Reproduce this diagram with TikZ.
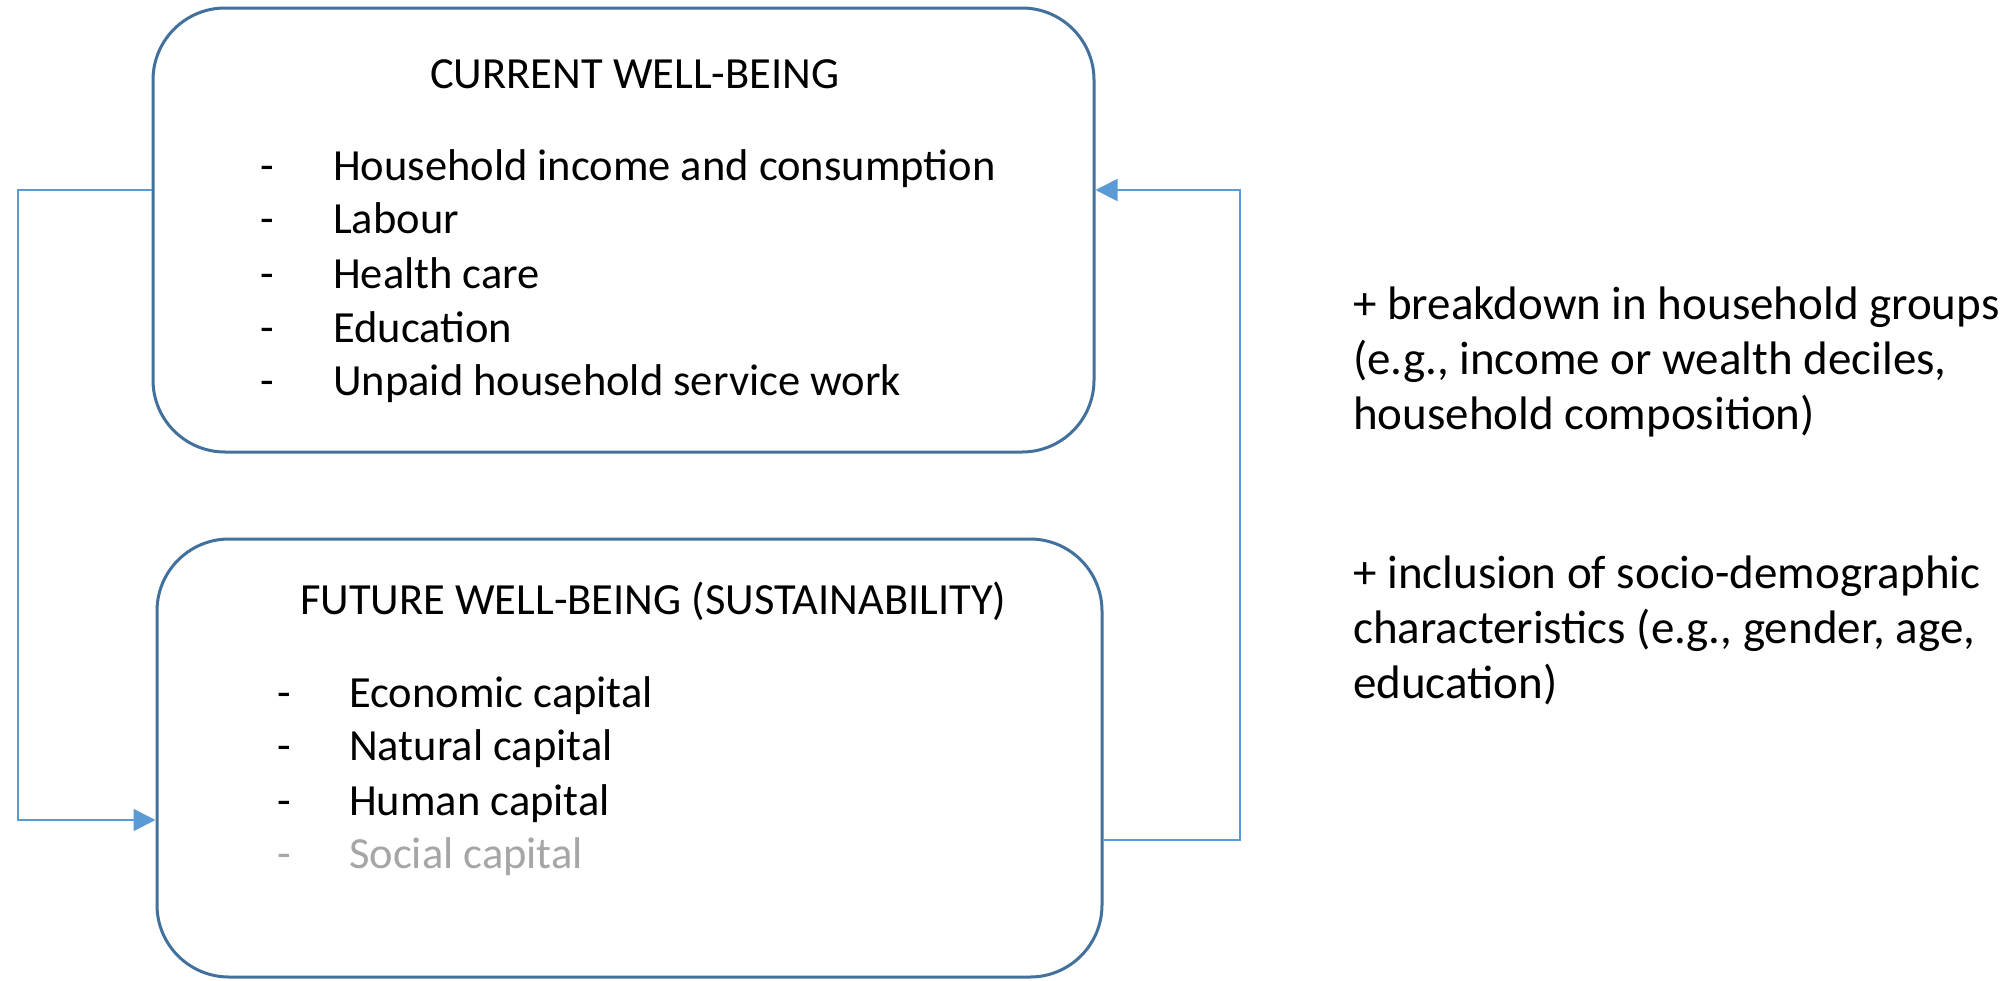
\documentclass[tikz,border=0pt]{standalone}
\usepackage{fontspec}
\setmainfont{Carlito}
\usetikzlibrary{arrows.meta}
\definecolor{boxblue}{HTML}{41719C}
\definecolor{linkblue}{HTML}{5B9BD5}
\definecolor{softgray}{HTML}{A6A6A6}
\begin{document}
\begin{tikzpicture}[x=1pt,y=-1pt,
  wbox/.style={draw=boxblue, line width=3pt, rounded corners=72pt, inner sep=0pt},
  link/.style={draw=linkblue, line width=1.8pt},
  arr/.style={-{Triangle[length=22pt,width=22pt]}},
  titletxt/.style={anchor=base west, inner sep=0pt, font=\fontsize{44.5}{53}\selectfont},
  itemtxt/.style={anchor=base west, inner sep=0pt, font=\fontsize{44.5}{53}\selectfont},
  sidetxt/.style={anchor=base west, inner sep=0pt, align=left, font=\fontsize{47}{55}\selectfont}]
\useasboundingbox (0,0) rectangle (2013,980);
\fill[white] (0,0) rectangle (2013,980);
% boxes
\node[wbox, minimum width=941pt, minimum height=444pt] (cur) at (623.5,230) {};
\node[wbox, minimum width=945pt, minimum height=438pt] (fut) at (629.5,758) {};
% top box text
\node[titletxt] (t1) at (430,88) {CURRENT WELL-BEING};
\node[itemtxt] (d1) at (260,180) {-};
\node[itemtxt] (i1) at (333,180) {Household income and consumption};
\node[itemtxt] (d2) at (260,233) {-};
\node[itemtxt] (i2) at (333,233) {Labour};
\node[itemtxt] (d3) at (260,288) {-};
\node[itemtxt] (i3) at (333,288) {Health care};
\node[itemtxt] (d4) at (260,342) {-};
\node[itemtxt] (i4) at (333,342) {Education};
\node[itemtxt] (d5) at (260,395) {-};
\node[itemtxt] (i5) at (333,395) {Unpaid household service work};
% bottom box text
\node[titletxt] (t2) at (300,614) {FUTURE WELL-BEING (SUSTAINABILITY)};
\node[itemtxt] (e1) at (277,707) {-};
\node[itemtxt] (j1) at (349,707) {Economic capital};
\node[itemtxt] (e2) at (277,760) {-};
\node[itemtxt] (j2) at (349,760) {Natural capital};
\node[itemtxt] (e3) at (277,815) {-};
\node[itemtxt] (j3) at (349,815) {Human capital};
\node[itemtxt, text=softgray] (e4) at (277,868) {-};
\node[itemtxt, text=softgray] (j4) at (349,868) {Social capital};
% side notes (anchored at the baseline of their last line)
\node[sidetxt] (s1) at (1353,429) {+ breakdown in household groups\\(e.g., income or wealth deciles,\\household composition)};
\node[sidetxt] (s2) at (1353,698) {+ inclusion of socio-demographic\\characteristics (e.g., gender, age,\\education)};
% connectors
\coordinate (lc1) at (18,190);
\coordinate (lc2) at (18,820);
\coordinate (rc1) at (1240,840);
\coordinate (rc2) at (1240,190);
\draw[link, arr] (cur.west |- lc1) -- (lc1) -- (lc2) -- (fut.west |- lc2);
\draw[link, arr] (fut.east |- rc1) -- (rc1) -- (rc2) -- (cur.east |- rc2);
\end{tikzpicture}
\end{document}
